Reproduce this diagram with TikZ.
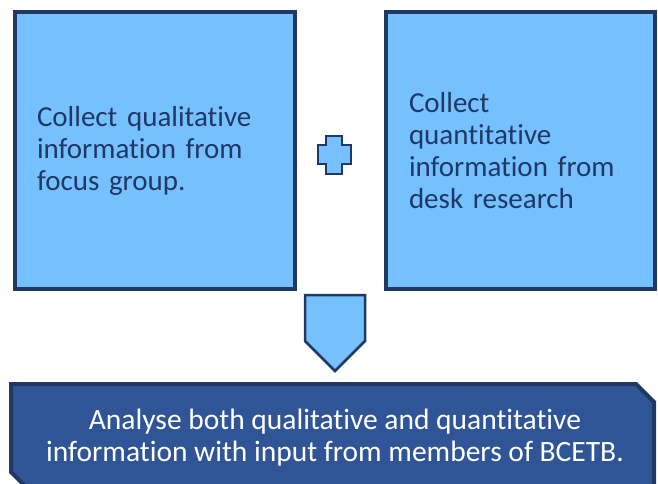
\documentclass[tikz,border=0pt]{standalone}
\usepackage{fontspec}
\setmainfont{Carlito}[RawFeature=-liga]
\usetikzlibrary{calc}
\definecolor{paleblue}{RGB}{117,193,255}
\definecolor{navy}{RGB}{32,56,100}
\definecolor{midblue}{RGB}{47,85,151}
\tikzset{
	collectbox/.style={draw=navy, line width=4pt, fill=paleblue, text=navy, align=left, minimum height=277pt, inner ysep=0pt, font=\fontsize{29}{32}\selectfont},
	signshape/.style={draw=navy, line width=2.5pt, fill=paleblue, line join=miter},
	analysebox/.style={draw=navy, line width=4pt, fill=midblue, line join=miter}
}

\begin{document}
\begin{tikzpicture}[x=1pt, y=-1pt]
		%%%%% START %%%%%
		
		\useasboundingbox (0, 0) rectangle (658, 483);
		\clip (0, 0) rectangle (658, 483);
		
		\node[collectbox, text width=236pt, inner xsep=22pt] (qual) at (155, 150.5)
			{Collect qualitative\\information from\\focus group.};
		\node[collectbox, text width=223pt, inner xsep=23pt] (quant) at (520.5, 150.5)
			{Collect\\quantitative\\information from\\desk research};
		
		\draw[signshape] (326, 136) -- (342, 136) -- (342, 145) -- (351, 145) -- (351, 164) -- (342, 164)
			-- (342, 174) -- (326, 174) -- (326, 164) -- (318, 164) -- (318, 145) -- (326, 145) -- cycle;
		
		\draw[signshape] (305, 295) -- (365, 295) -- (365, 341) -- (335, 371) -- (305, 341) -- cycle;
		
		\draw[analysebox] (11, 384) -- (636, 384) -- (654, 402) -- (654, 490) -- (29, 490) -- (11, 472) -- cycle;
		\node[text=white, align=center, font=\fontsize{29.5}{32}\selectfont] (analyse) at (335, 438)
			{Analyse both qualitative and quantitative\\information with input from members of BCETB.};
		
		%%%%% END %%%%%
	\end{tikzpicture}
\end{document}
